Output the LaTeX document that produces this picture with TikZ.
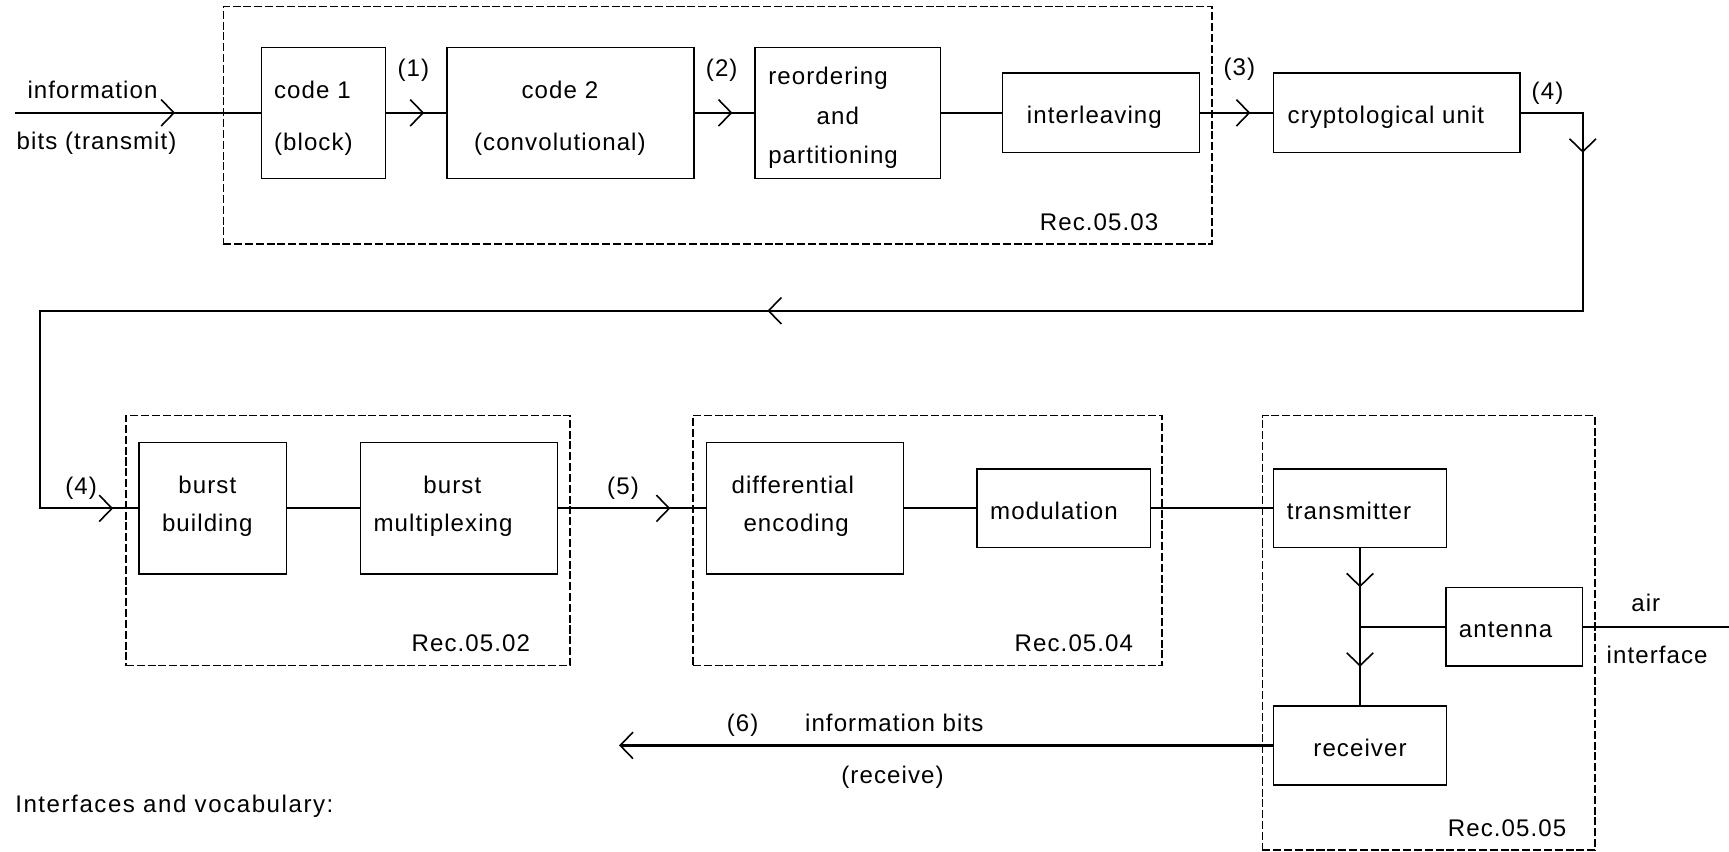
\documentclass[tikz,border=0pt]{standalone}
\usepackage{fontspec}
\setmainfont{Liberation Sans}[LetterSpace=4.5]
\usetikzlibrary{arrows.meta,decorations.markings}
\newcommand\mystrut{\rule{0pt}{13.8pt}}
\newcommand\mydstrut{\rule[-4.5pt]{0pt}{0pt}}
\newcommand\tr[1]{\hspace*{#1}}
\tikzset{
  box/.style 2 args={draw, line width=0.75pt, minimum width=#1*0.55pt, minimum height=#2*0.55pt, inner sep=0pt, align=center},
  one/.style={text height=11pt, text depth=0pt},
  grp/.style 2 args={draw, line width=0.65pt, dash pattern=on 4pt off 1.4pt, minimum width=#1*0.55pt, minimum height=#2*0.55pt, inner sep=0pt},
  txt/.style={inner sep=0pt, anchor=base},
  conn/.style={line width=1.1pt},
  chev/.tip={Straight Barb[length=6.4pt, width=13.2pt, line width=0.8pt]},
  chevat/.style={postaction={decorate, decoration={markings, mark=at position #1 with {\arrow{chev}}}}},
}
\begin{document}
\begin{tikzpicture}[x=0.55pt, y=-0.55pt, font=\fontsize{12}{19.1}\selectfont]
\useasboundingbox (0,0) rectangle (1568,772);
% group boxes
\node[grp={896.7}{215.4}] (g1) at (650.85,113.6) {};
\node[grp={402.8}{226.7}] (g2) at (315.6,490.35) {};
\node[grp={425.4}{226.7}] (g3) at (841.1,490.35) {};
\node[grp={301.7}{393.8}] (g4) at (1295.65,573.9) {};
% blocks row 1
\node[box={112.5}{118.8}, text width=49.5pt, align=left] (c1) at (293.55,102.3) {\mystrut code 1\\[6.7pt](block)};
\node[box={223.8}{118.8}] (c2) at (517.3,102.3) {\mystrut code 2\tr{10.5pt}\\[6.7pt](convolutional)\tr{10.5pt}};
\node[box={168.3}{118.8}, text width=79.3pt, align=left] (ro) at (768.85,102.3) {\mystrut reordering\\[0.7pt]\hspace*{24.1pt}and\\[0.7pt]partitioning};
\node[box={178.6}{72}, one] (il) at (998.3,102.3) {interleaving\tr{6.4pt}};
\node[box={223.4}{72}, one] (cu) at (1266.7,102.3) {cryptological unit\tr{10.8pt}};
% blocks row 2
\node[box={134}{119.2}] (bb) at (193,461) {burst\tr{5.5pt}\\building\tr{5.5pt}\mydstrut};
\node[box={178.4}{119.2}] (bm) at (416.2,461) {burst\tr{6.6pt}\\multiplexing\tr{15.8pt}\mydstrut};
\node[box={179}{119.2}] (de) at (730,461) {differential\tr{12.1pt}\\encoding\tr{8.8pt}\mydstrut};
\node[box={157.2}{71.4}, one] (mo) at (964.8,461) {modulation\tr{9.9pt}};
\node[box={157.3}{71.4}, one] (tx) at (1233.35,461) {transmitter\tr{11pt}};
\node[box={123.6}{71}, one] (an) at (1373.1,568.5) {antenna\tr{8.5pt}};
\node[box={157.3}{71.7}, one] (rx) at (1233.35,676) {receiver};
% labels
\node[txt] (inl1) at (83.9,89.2) {information};
\node[txt] (inl2) at (87.6,136) {bits (transmit)};
\node[txt] (l1) at (374.8,69.8) {(1)};
\node[txt] (l2) at (654.5,69.3) {(2)};
\node[txt] (l3) at (1124,68.5) {(3)};
\node[txt] (l4a) at (1403.4,89.8) {(4)};
\node[txt] (l4b) at (73.5,448) {(4)};
\node[txt] (l5) at (565,448) {(5)};
\node[txt] (l6) at (673.4,663.5) {(6)};
\node[txt] (outl1) at (811,663.5) {information bits};
\node[txt] (outl2) at (809.4,710.5) {(receive)};
\node[txt] (r3) at (996.7,208.6) {Rec.05.03};
\node[txt] (r2) at (427,591) {Rec.05.02};
\node[txt] (r4) at (973.9,591) {Rec.05.04};
\node[txt] (r5) at (1366.7,758.8) {Rec.05.05};
\node[txt] (air) at (1492.5,554.7) {air};
\node[txt] (ifc) at (1502.8,601.5) {interface};
\node[txt, anchor=base west, font=\fontsize{12}{19.1}\addfontfeature{LetterSpace=6.5}] (voc) at (13.5,736.5) {Interfaces and vocabulary:};
% free ends
\coordinate (inS) at (13.5,102.3);
\coordinate (c4a) at (1435.4,281.8);
\coordinate (c4b) at (36.4,281.8);
\coordinate (airE) at (1568,568.5);
\coordinate (outE) at (561.4,676);
\coordinate (jn) at (an.west -| tx.south);
% connectors
\draw[conn, chevat=79.9pt] (inS) -- (inS -| c1.west);
\draw[conn, chevat=18.8pt] (c1.east) -- (c2.west);
\draw[conn, chevat=18.9pt] (c2.east) -- (ro.west);
\draw[conn] (ro.east) -- (il.west);
\draw[conn, chevat=25.1pt] (il.east) -- (cu.west);
\draw[conn, chevat=50.9pt, chevat=536.4pt, chevat=-12.5pt] (cu.east) -| (c4a) -- (c4b) |- (bb.west);
\draw[conn] (bb.east) -- (bm.west);
\draw[conn, chevat=56pt] (bm.east) -- (de.west);
\draw[conn] (de.east) -- (mo.west);
\draw[conn] (mo.east) -- (tx.west);
\draw[conn, chevat=19.4pt, chevat=59pt] (tx.south) -- (rx.north);
\draw[conn] (an.west) -- (jn);
\draw[conn] (an.east) -- (airE);
\draw[conn, -{chev}] (rx.west) -- (outE);
\end{tikzpicture}
\end{document}
